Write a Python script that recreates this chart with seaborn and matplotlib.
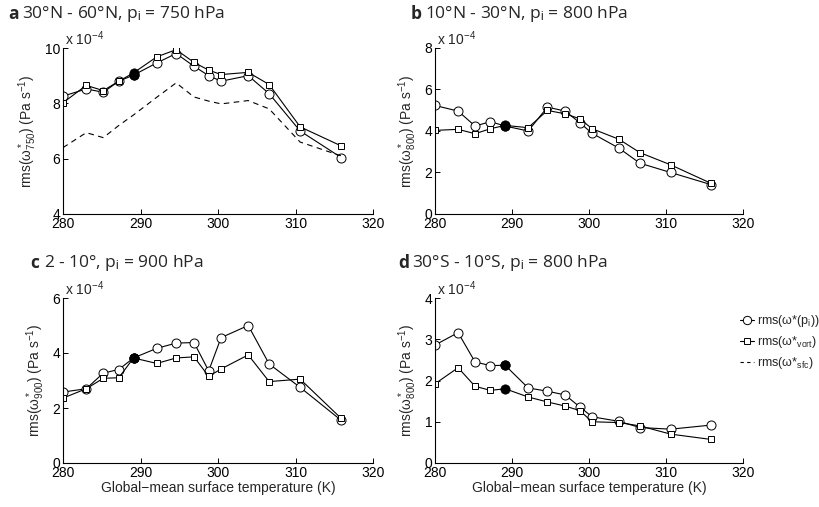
import matplotlib
matplotlib.use("Agg")
import matplotlib.pyplot as plt
import seaborn as sns
import pandas as pd
from matplotlib.lines import Line2D

# ---------------- data (values in units of 1e-4 Pa s^-1) ----------------
temps = [280.0, 283.0, 285.2, 287.2, 289.1, 292.1, 294.6, 296.9, 298.8, 300.4, 303.9, 306.6, 310.6, 315.9]
ref_temp = 289.1

a_pi   = [8.26, 8.52, 8.40, 8.80, 9.02, 9.46, 9.80, 9.34, 9.00, 8.80, 9.00, 8.35, 7.00, 6.04]
a_vort = [8.02, 8.65, 8.46, 8.80, 9.10, 9.68, 9.94, 9.48, 9.20, 9.04, 9.12, 8.68, 7.15, 6.46]
a_sfc  = [6.40, 6.94, 6.76, 7.20, 7.58, 8.22, 8.74, 8.23, 8.08, 7.98, 8.10, 7.80, 6.60, 6.10]

b_pi   = [5.23, 4.96, 4.24, 4.45, 4.24, 4.00, 5.15, 4.96, 4.40, 3.89, 3.17, 2.45, 2.00, 1.41]
b_vort = [4.03, 4.08, 3.87, 4.11, 4.27, 4.16, 4.99, 4.83, 4.59, 4.11, 3.60, 2.96, 2.37, 1.47]

c_pi   = [2.58, 2.70, 3.27, 3.40, 3.82, 4.17, 4.36, 4.38, 3.35, 4.56, 5.00, 3.60, 2.75, 1.55]
c_vort = [2.36, 2.70, 3.08, 3.10, 3.82, 3.62, 3.82, 3.86, 3.15, 3.42, 3.93, 2.96, 3.05, 1.62]

d_pi   = [2.86, 3.16, 2.45, 2.36, 2.37, 1.82, 1.74, 1.65, 1.36, 1.12, 1.01, 0.86, 0.82, 0.92]
d_vort = [1.92, 2.31, 1.86, 1.76, 1.80, 1.60, 1.48, 1.38, 1.27, 1.00, 0.98, 0.90, 0.70, 0.57]

panel_letters = ["a", "b", "c", "d"]
panel_titles = ["30°N - 60°N, p$_\\mathrm{i}$ = 750 hPa",
                "10°N - 30°N, p$_\\mathrm{i}$ = 800 hPa",
                "2 - 10°, p$_\\mathrm{i}$ = 900 hPa",
                "30°S - 10°S, p$_\\mathrm{i}$ = 800 hPa"]
ylabels = ["rms($\\omega^*_{750}$) (Pa s$^{-1}$)",
           "rms($\\omega^*_{800}$) (Pa s$^{-1}$)",
           "rms($\\omega^*_{900}$) (Pa s$^{-1}$)",
           "rms($\\omega^*_{800}$) (Pa s$^{-1}$)"]
ylims = [(4, 10), (0, 8), (0, 6), (0, 4)]
yticks = [[4, 6, 8, 10], [0, 2, 4, 6, 8], [0, 2, 4, 6], [0, 1, 2, 3, 4]]
xticks = [280, 290, 300, 310, 320]
xlabel = "Global\u2212mean surface temperature (K)"
legend_labels = ["rms(\u03c9*(p$_\\mathrm{i}$))",
                 "rms(\u03c9*$_\\mathrm{vort}$)",
                 "rms(\u03c9*$_\\mathrm{sfc}$)"]

# ---------------- style ----------------
sns.set_style("ticks")
plt.rcParams["font.family"] = ["Liberation Sans", "DejaVu Sans"]
plt.rcParams["mathtext.fontset"] = "custom"
plt.rcParams["mathtext.rm"] = "Liberation Sans"
plt.rcParams["mathtext.it"] = "Liberation Sans:italic"
plt.rcParams["mathtext.default"] = "regular"
plt.rcParams["xtick.direction"] = "in"
plt.rcParams["ytick.direction"] = "in"

W, H = 819, 507
fig = plt.figure(figsize=(W / 100, H / 100), dpi=100)

def box(l, t, r, b):
    return [l / W, 1 - b / H, (r - l) / W, (b - t) / H]

rects = [box(63, 48, 373, 214), box(435, 48, 743, 214),
         box(63, 298, 373, 463), box(435, 298, 743, 463)]
title_pos = [(8, 14), (411, 14), (30, 263), (398, 263)]

series = [(a_pi, a_vort, a_sfc), (b_pi, b_vort, None),
          (c_pi, c_vort, None), (d_pi, d_vort, None)]

for i, (pi, vort, sfc) in enumerate(series):
    ax = fig.add_axes(rects[i])
    df = pd.DataFrame({"T": temps, "pi": pi, "vort": vort})
    common = dict(color="black", linewidth=0.8, sort=False, estimator=None,
                  markerfacecolor="white", markeredgecolor="black",
                  markeredgewidth=0.7, legend=False)
    sns.lineplot(data=df, x="T", y="pi", marker="o", markersize=6.5, ax=ax, **common)
    sns.lineplot(data=df, x="T", y="vort", marker="s", markersize=5, ax=ax, **common)
    if sfc is not None:
        dfs = pd.DataFrame({"T": temps, "sfc": sfc})
        sns.lineplot(data=dfs, x="T", y="sfc", color="black", linewidth=0.8,
                     linestyle=(0, (5, 4)), sort=False, estimator=None, ax=ax, legend=False)
    ref = df[df["T"] == ref_temp]
    for col in ["pi", "vort"]:
        sns.scatterplot(data=ref, x="T", y=col, marker="o", s=45, color="black",
                        edgecolor="black", linewidth=0.5, ax=ax, legend=False, zorder=5)

    ax.set_xlim(280, 320)
    ax.set_ylim(*ylims[i])
    ax.set_xticks(xticks)
    ax.set_yticks(yticks[i])
    ax.tick_params(labelsize=10, length=3.5, width=0.7, pad=2, colors="black")
    for s in ["top", "right"]:
        ax.spines[s].set_visible(False)
    for s in ["left", "bottom"]:
        ax.spines[s].set_linewidth(0.8)
        ax.spines[s].set_color("black")
    ax.set_ylabel(ylabels[i], fontsize=10, labelpad=4)
    if i >= 2:
        ax.set_xlabel(xlabel, fontsize=10, labelpad=1)
    else:
        ax.set_xlabel("")
    ax.text(0.005, 1.0, "x 10$^{-4}$", transform=ax.transAxes, ha="left", va="bottom",
            fontsize=10)

    tx, ty = title_pos[i]
    fig.text(tx / W, 1 - ty / H, panel_letters[i], fontsize=12.5, fontweight="bold",
             family=["Open Sans", "DejaVu Sans"], va="center", ha="left")
    fig.text((tx + 14) / W, 1 - ty / H, panel_titles[i], fontsize=12.5,
             family=["Open Sans", "DejaVu Sans"], va="center", ha="left")

handles = [Line2D([], [], color="black", lw=0.8, marker="o", markersize=6,
                  markerfacecolor="white", markeredgewidth=0.7),
           Line2D([], [], color="black", lw=0.8, marker="s", markersize=4.5,
                  markerfacecolor="white", markeredgewidth=0.7),
           Line2D([], [], color="black", lw=0.8, linestyle=(0, (3, 3)))]
fig.legend(handles, legend_labels, loc="upper left",
           bbox_to_anchor=(740 / W, 1 - 313 / H), frameon=False, fontsize=9,
           handlelength=1.15, handletextpad=0.2, labelspacing=0.4, borderaxespad=0,
           borderpad=0)

fig.savefig("out.png", dpi=100)
